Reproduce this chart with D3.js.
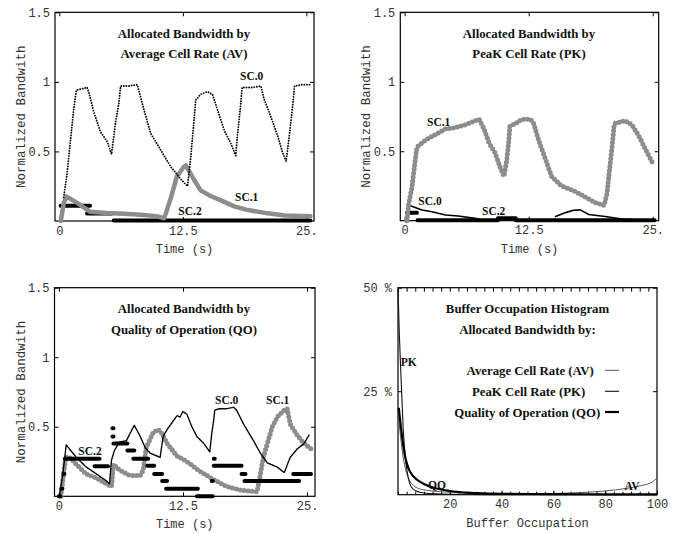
<!DOCTYPE html>
<html>
<head>
<meta charset="utf-8">
<script src="https://cdn.jsdelivr.net/npm/d3@7"></script>
<style>
body { margin: 0; background: #fff; }
.mono { font-family: "Liberation Mono", "DejaVu Sans Mono", monospace; font-size: 12px; fill: #333; }
.ttl { font-family: "Liberation Serif", "Times New Roman", serif; font-weight: bold; font-size: 12.8px; fill: #111; }
.lbl { font-family: "Liberation Serif", "Times New Roman", serif; font-weight: bold; font-size: 11.5px; fill: #111; }
</style>
</head>
<body>
<svg id="chart" width="684" height="534"></svg>
<script>
// ---- data: [time (s), normalized bandwidth] ----
const avSc0 = [[0.44,0.17],[0.78,0.34],[1.1,0.56],[1.45,0.8],[1.72,0.94],[2.3,0.95],[2.8,0.96],[3.0,0.92],[3.5,0.78],[4.17,0.64],[4.85,0.57],[5.28,0.48],
  [5.69,0.71],[6.03,0.85],[6.2,0.97],[7.0,0.97],[7.89,0.98],[8.56,0.8],[9.24,0.63],[10.26,0.51],[11.27,0.39],[12.3,0.3],[12.97,0.25],
  [13.3,0.46],[13.6,0.7],[13.8,0.87],[14.3,0.91],[14.97,0.93],[15.5,0.91],[16.0,0.8],[16.7,0.65],[17.4,0.55],[17.85,0.47],
  [18.0,0.6],[18.3,0.8],[18.5,0.96],[19.5,0.96],[20.4,0.97],[20.7,0.88],[21.4,0.75],[22.1,0.61],[22.6,0.49],[22.95,0.43],
  [23.3,0.63],[23.6,0.82],[23.8,0.97],[24.6,0.98],[25.4,0.98]];
const avSc1 = [[0.15,0],[0.45,0.13],[0.74,0.175],[1.8,0.13],[3.1,0.067],[4.8,0.057],[6.5,0.052],[8.2,0.045],[9.8,0.035],[10.6,0.02],
  [10.8,0.06],[11.3,0.17],[11.9,0.32],[12.6,0.39],[12.8,0.4],[13.6,0.3],[14.3,0.22],[15.3,0.18],[16.3,0.15],[17.7,0.105],
  [19.0,0.08],[21.1,0.055],[22.8,0.04],[25.4,0.035]];
const avSc2 = [[0.13,3.1,0.11],[2.8,5.3,0.054],[5.5,25.4,0.003]]; // [from, to, level]

const pkSc1 = [[0.23,0],[0.4,0.12],[0.73,0.24],[0.9,0.34],[1.14,0.48],[1.24,0.53],[2.08,0.58],[3.1,0.62],[4.1,0.66],[5.1,0.67],
  [6.1,0.69],[7.1,0.72],[7.5,0.73],[8.0,0.66],[8.5,0.56],[9.1,0.49],[9.6,0.39],[10.0,0.32],[10.3,0.44],[10.5,0.58],[10.6,0.68],
  [11.2,0.7],[11.8,0.73],[12.7,0.73],[13.0,0.7],[13.5,0.58],[14.2,0.44],[14.8,0.32],[15.8,0.25],[17.2,0.21],[18.2,0.17],
  [19.2,0.13],[20.1,0.11],[20.4,0.2],[20.6,0.34],[20.9,0.53],[21.1,0.68],[21.2,0.7],[22.2,0.72],[22.9,0.69],[23.6,0.61],
  [24.3,0.51],[25.1,0.4]];
const pkSc0a = [[0.57,0.108],[1.75,0.077],[2.75,0.065],[4.1,0.041],[5.4,0.034],[7.1,0.017],[7.8,0.005]];
const pkSc0b = [[15.2,0.03],[16.3,0.06],[17.0,0.075],[17.7,0.078],[18.55,0.045],[20.2,0.03],[21.9,0.012],[23.5,0.005],[25.2,0.003]];
const pkSc2 = [[0.23,1.24,0.058],[1.3,9.4,0.003],[9.4,11.2,0.017],[11.2,25.2,0.003]];

const qoSc0 = [[0.05,0],[0.4,0.16],[0.74,0.37],[1.75,0.28],[2.76,0.21],[3.8,0.16],[4.8,0.11],[5.1,0.09],[5.3,0.26],[5.6,0.33],
  [6.1,0.39],[6.8,0.4],[7.3,0.47],[7.6,0.51],[8.2,0.43],[8.7,0.35],[9.2,0.31],[10.2,0.28],[10.5,0.43],[10.9,0.48],[11.4,0.53],
  [11.9,0.58],[12.2,0.57],[12.5,0.61],[12.9,0.59],[13.4,0.5],[13.9,0.43],[14.6,0.38],[15.2,0.32],[15.4,0.45],[15.6,0.55],
  [15.7,0.62],[16.2,0.63],[16.9,0.63],[17.6,0.64],[17.9,0.62],[18.6,0.52],[19.6,0.4],[20.3,0.31],[21.0,0.24],[22.0,0.21],
  [22.7,0.17],[23.3,0.28],[24.0,0.34],[24.7,0.38],[25.2,0.44]];
const qoSc1 = [[0.2,0],[0.56,0.21],[0.7,0.28],[1.1,0.28],[1.75,0.23],[2.76,0.16],[3.8,0.13],[4.8,0.09],[5.3,0.07],[5.5,0.23],
  [6.1,0.19],[7.1,0.15],[8.2,0.15],[8.5,0.19],[8.8,0.35],[9.5,0.46],[10.0,0.48],[10.4,0.45],[10.9,0.38],[11.9,0.29],[12.9,0.25],
  [14.2,0.18],[15.6,0.12],[16.9,0.07],[18.3,0.044],[19.96,0.033],[20.3,0.16],[20.6,0.28],[21.0,0.38],[21.5,0.5],[22.0,0.57],
  [22.7,0.62],[23.0,0.63],[23.3,0.52],[24.0,0.44],[24.7,0.38],[25.4,0.34]];
const qoSc2 = [[0.0,0.15,0],[0.25,0.35,0.055],[0.45,0.55,0.16],[0.6,4.1,0.27],[3.6,4.95,0.216],[5.4,5.5,0.49],[5.4,5.5,0.43],
  [5.5,6.9,0.38],[6.9,7.6,0.33],[7.5,9.0,0.27],[8.9,9.6,0.22],[9.6,10.4,0.16],[10.4,10.9,0.11],[10.8,14.0,0.055],[13.9,15.5,0.0],
  [15.4,15.5,0.11],[15.6,15.7,0.27],[15.6,18.4,0.22],[18.4,18.8,0.16],[18.7,24.2,0.11],[23.6,25.4,0.16]];

// ---- buffer occupation histogram: [occupation, %] ----
const histAV = [[0,20],[1,14],[2,9],[3,6],[4,4],[6,2.2],[8,1.5],[12,1],[20,0.6],[30,0.3],[40,0.2],[50,0.2],[60,0.3],[70,0.5],[80,0.9],[88,1.5],[94,2.2],[98,3],[100,4]];
const histPK = [[0,50],[0.5,39],[1.2,28],[2,16],[3,8],[4,4],[5,2],[7,0.9],[10,0.4],[20,0.1],[40,0],[100,0]];
const histQO = [[0.3,21],[1,17],[2,12],[3,8.5],[4,6.5],[5,5.2],[7,3.8],[10,2.6],[15,1.5],[20,0.9],[30,0.4],[40,0.2],[60,0.15],[80,0.1],[100,0.1]];

const timeTicks = [0, 12.5, 25];
const bwTicks = [0.5, 1, 1.5];
const occTicks = [20, 40, 60, 80, 100];
const pctTicks = [25, 50];

const GREY = "#8c8c8c";
const svg = d3.select("#chart");

function panel(p) {
  const x = d3.scaleLinear().domain(p.xd).range([p.l, p.r]);
  const y = d3.scaleLinear().domain(p.yd).range([p.b, p.t]);
  const g = svg.append("g");
  g.append("g").attr("transform", `translate(0,${p.b})`)
    .call(d3.axisBottom(x).tickValues(p.xt).tickSize(-4).tickPadding(5).tickFormat(p.xf));
  g.append("g").attr("transform", `translate(${p.l},0)`)
    .call(d3.axisLeft(y).tickValues(p.yt).tickSize(-4).tickPadding(p.yp).tickFormat(p.yf));
  g.append("g").attr("transform", `translate(0,${p.t})`).call(d3.axisTop(x).tickValues(p.xm || p.xt).tickSize(-4).tickFormat(""));
  g.append("g").attr("transform", `translate(${p.r},0)`).call(d3.axisRight(y).tickValues(p.yt).tickSize(-4).tickFormat(""));
  if (p.xm) g.append("g").attr("transform", `translate(0,${p.b})`).call(d3.axisBottom(x).tickValues(p.xm).tickSize(-3).tickFormat(""));
  g.selectAll(".domain").remove();
  g.selectAll(".tick line").attr("stroke", "#000");
  g.selectAll(".tick text").attr("class", "mono").attr("font-family", null).attr("font-size", null).attr("fill", null);
  g.append("rect").attr("x", p.l).attr("y", p.t).attr("width", p.r - p.l).attr("height", p.b - p.t)
    .attr("fill", "none").attr("stroke", "#000").attr("stroke-width", 1.2);
  g.append("text").attr("class", "mono").attr("text-anchor", "middle")
    .attr("x", (p.l + p.r) / 2).attr("y", p.b + 32).text(p.xTitle);
  if (p.yTitle) g.append("text").attr("class", "mono").attr("text-anchor", "middle").style("font-size", "12.5px")
    .attr("transform", `translate(${p.l - 30},${(p.t + p.b) / 2}) rotate(-90)`).text(p.yTitle);
  p.title.forEach((s, i) => g.append("text").attr("class", "ttl").attr("text-anchor", "middle")
    .attr("x", p.tx).attr("y", p.t + 25.5 + i * 20.5).text(s));
  return { g, x, y };
}

const line = (x, y) => d3.line().x(d => x(d[0])).y(d => y(d[1]));

function dotted(P, data, w, dash, col) {
  P.g.append("path").datum(data).attr("d", line(P.x, P.y)).attr("fill", "none").attr("stroke", col)
    .attr("stroke-width", w).attr("stroke-linecap", "round").attr("stroke-linejoin", "round")
    .attr("stroke-dasharray", dash);
}
function steps(P, segs) {
  P.g.selectAll(null).data(segs).enter().append("line")
    .attr("x1", d => P.x(d[0])).attr("x2", d => P.x(d[1]))
    .attr("y1", d => P.y(d[2])).attr("y2", d => P.y(d[2]))
    .attr("stroke", "#000").attr("stroke-width", 4).attr("stroke-linecap", "round");
}
function label(P, s, x, y) {
  P.g.append("text").attr("class", "lbl").attr("text-anchor", "middle").attr("x", x).attr("y", y).text(s);
}

const tFmt = d => d === 25 ? "25." : d;
const bwFmt = d => d;

// panel 1: average cell rate
const P1 = panel({ l: 55, r: 314, t: 12.3, b: 221, xd: [-0.44, 25.77], yd: [0, 1.5], xt: timeTicks, yt: bwTicks,
  xf: tFmt, yf: bwFmt, yp: 5, xTitle: "Time (s)", yTitle: "Normalized Bandwith", tx: 184,
  title: ["Allocated Bandwidth by", "Average Cell Rate (AV)"] });
steps(P1, avSc2);
dotted(P1, avSc1, 4.5, null, GREY);
dotted(P1, avSc0, 1.9, "0 2.6", "#000");
label(P1, "SC.0", 251.7, 80); label(P1, "SC.1", 246.7, 200.7); label(P1, "SC.2", 190, 214.7);

// panel 2: peak cell rate
const P2 = panel({ l: 400.3, r: 658.7, t: 12.3, b: 220.7, xd: [-0.44, 25.6], yd: [0, 1.5], xt: timeTicks, yt: bwTicks,
  xf: tFmt, yf: bwFmt, yp: 5, xTitle: "Time (s)", yTitle: "Normalized Bandwith", tx: 529,
  title: ["Allocated Bandwidth by", "PeaK Cell Rate (PK)"] });
steps(P2, pkSc2);
dotted(P2, pkSc0a, 1.6, null, "#000");
dotted(P2, pkSc0b, 1.6, null, "#000");
dotted(P2, pkSc1, 5, "0 4", GREY);
label(P2, "SC.1", 438.7, 126.3); label(P2, "SC.0", 430, 205); label(P2, "SC.2", 493.7, 215.3);

// panel 3: quality of operation
const P3 = panel({ l: 54.5, r: 315, t: 287.7, b: 496.3, xd: [-0.44, 25.8], yd: [0, 1.5], xt: timeTicks, yt: bwTicks,
  xf: tFmt, yf: bwFmt, yp: 5, xTitle: "Time (s)", yTitle: "Normalized Bandwith", tx: 184,
  title: ["Allocated Bandwidth by", "Quality of Operation (QO)"] });
dotted(P3, qoSc1, 5, "0 4", GREY);
steps(P3, qoSc2);
dotted(P3, qoSc0, 1.4, "1.6 1", "#000");
label(P3, "SC.2", 90, 455); label(P3, "SC.0", 226.7, 403.7); label(P3, "SC.1", 277.7, 403.7);

// panel 4: buffer occupation histogram
const P4 = panel({ l: 398, r: 657, t: 287.7, b: 494.7, xd: [0, 100], yd: [0, 50], xt: occTicks, yt: pctTicks,
  xm: d3.range(0, 100, 10 / 3), xf: d => d, yf: d => d + " %", yp: 6, xTitle: "Buffer Occupation", tx: 527.5,
  title: ["Buffer Occupation Histogram", "Allocated Bandwidth by:"] });
const histLine = d3.line().x(d => P4.x(d[0])).y(d => P4.y(d[1])).curve(d3.curveMonotoneX);
const hist = [
  { name: "Average Cell Rate (AV)", data: histAV, col: "#555", w: 1, tx: 593.7, ly: 370.3 },
  { name: "PeaK Cell Rate (PK)", data: histPK, col: "#111", w: 1.1, tx: 585.3, ly: 391.3 },
  { name: "Quality of Operation (QO)", data: histQO, col: "#000", w: 2.2, tx: 600.3, ly: 412 }
];
hist.forEach(h => {
  P4.g.append("path").datum(h.data).attr("d", histLine).attr("fill", "none")
    .attr("stroke", h.col).attr("stroke-width", h.w);
  P4.g.append("text").attr("class", "ttl").attr("text-anchor", "end").attr("x", h.tx).attr("y", h.ly + 4.5).text(h.name);
  P4.g.append("line").attr("x1", 605).attr("x2", 619).attr("y1", h.ly).attr("y2", h.ly)
    .attr("stroke", h.col).attr("stroke-width", h.w);
});
label(P4, "PK", 408.7, 366); label(P4, "QO", 437, 489.3); label(P4, "AV", 632, 490);
</script>
</body>
</html>
